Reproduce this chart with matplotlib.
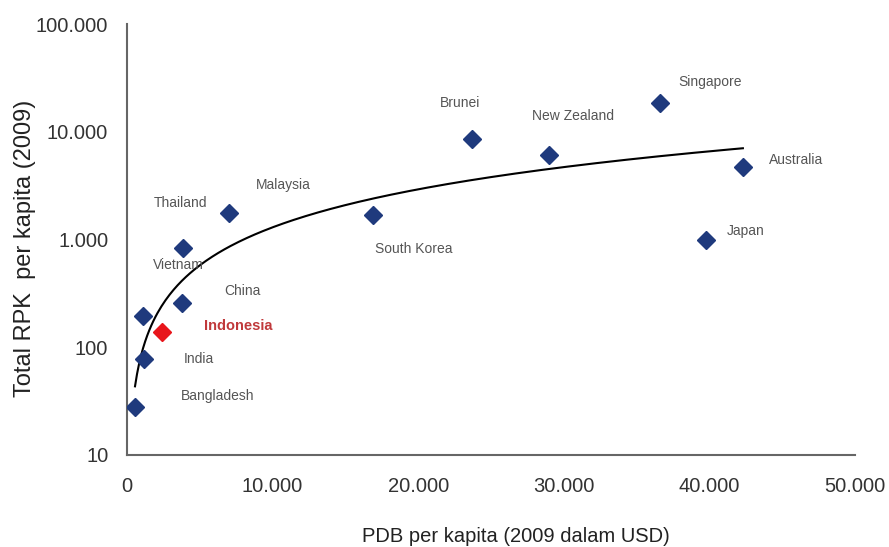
import numpy as np
import matplotlib
matplotlib.use("Agg")
import matplotlib.pyplot as plt
from matplotlib.ticker import FuncFormatter, FixedLocator

# data
countries = ["Singapore", "Brunei", "New Zealand", "Australia", "Japan", "South Korea",
             "Malaysia", "Thailand", "China", "Vietnam", "Indonesia", "India", "Bangladesh"]
gdp_per_capita = [36600, 23700, 29000, 42300, 39800, 16900,
                  7000, 3850, 3780, 1100, 2400, 1170, 550]
rpk_per_capita = [18600, 8600, 6100, 4750, 1000, 1700,
                  1750, 830, 255, 195, 140, 77, 28]
highlight = "Indonesia"

x_ticks = [0, 10000, 20000, 30000, 40000, 50000]
y_ticks = [10, 100, 1000, 10000, 100000]

# label offsets in pixels (dx, dy) relative to the marker
label_offsets = {
    "Singapore": (50, 21), "Brunei": (-12, 36), "New Zealand": (24, 39),
    "Australia": (53, 7), "Japan": (39, 8), "South Korea": (41, -34),
    "Malaysia": (54, 28), "Thailand": (-3, 45), "China": (60, 12),
    "Vietnam": (35, 51), "Indonesia": (76, 6), "India": (55, 0),
    "Bangladesh": (83, 11),
}

plt.rcParams['font.family'] = ['Liberation Sans', 'DejaVu Sans']

fig = plt.figure(figsize=(8.89, 5.47), dpi=100)
ax = fig.add_axes([127 / 889, 1 - 455 / 547, (855 - 127) / 889, (455 - 24) / 547])

navy = "#1f3a7d"
red = "#e8161b"
for name, x, y in zip(countries, gdp_per_capita, rpk_per_capita):
    color = red if name == highlight else navy
    ax.plot(x, y, marker="D", markersize=9, color=color, linestyle="none", zorder=3)
    dx, dy = label_offsets[name]
    if name == highlight:
        ax.annotate(name, (x, y), xytext=(dx, dy), textcoords="offset pixels",
                    ha="center", va="center", fontsize=10.5, color="#c0393b", fontweight="bold")
    else:
        ax.annotate(name, (x, y), xytext=(dx, dy), textcoords="offset pixels",
                    ha="center", va="center", fontsize=10, color="#555555")

# power trendline fitted on the points
b, loga = np.polyfit(np.log10(gdp_per_capita), np.log10(rpk_per_capita), 1)
xs = np.linspace(min(gdp_per_capita), max(gdp_per_capita), 300)
ax.plot(xs, 10 ** loga * xs ** b, color="black", linewidth=1.5, zorder=2)

ax.set_yscale("log")
ax.set_xlim(0, 50000)
ax.set_ylim(10, 100000)
ax.xaxis.set_major_locator(FixedLocator(x_ticks))
ax.yaxis.set_major_locator(FixedLocator(y_ticks))
ax.yaxis.set_minor_locator(FixedLocator([]))
fmt = FuncFormatter(lambda v, p: f"{v:,.0f}".replace(",", "."))
ax.xaxis.set_major_formatter(fmt)
ax.yaxis.set_major_formatter(fmt)
ax.tick_params(axis="both", length=0, labelsize=14.5, labelcolor="#333333")
ax.tick_params(axis="x", pad=16)
ax.tick_params(axis="y", pad=13.5)

for side in ["top", "right"]:
    ax.spines[side].set_visible(False)
for side in ["left", "bottom"]:
    ax.spines[side].set_color("#666666")
    ax.spines[side].set_linewidth(1.5)

fig.text(516 / 889, 1 - 537 / 547, "PDB per kapita (2009 dalam USD)", fontsize=14.5,
         color="#222222", ha="center", va="center")
fig.text(25 / 889, 1 - 248 / 547, "Total RPK  per kapita (2009)", fontsize=17,
         color="#222222", ha="center", va="center", rotation=90)

fig.savefig("out.png", dpi=100)
